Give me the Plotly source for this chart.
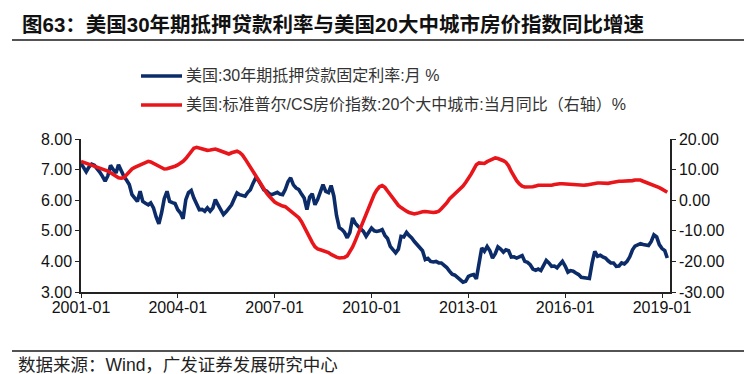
import pandas as pd
import plotly.graph_objects as go

# ---------------- data (monthly, 2001-01 .. 2019-03) ----------------
start_month = "2001-01-01"

mortgage_rate = [
    # 2001
    7.20, 7.08, 6.93, 7.08, 7.18, 7.14, 7.05, 6.92, 6.78, 6.62, 6.80, 7.14,
    # 2002
    7.00, 6.89, 7.16, 6.95, 6.78, 6.65, 6.51, 6.18, 6.05, 5.96, 6.29, 5.96,
    # 2003
    5.90, 5.85, 5.91, 5.75, 5.45, 5.23, 5.58, 6.05, 6.29, 5.96, 5.92, 5.89,
    # 2004
    5.69, 5.58, 5.39, 6.02, 6.25, 6.32, 6.07, 5.85, 5.69, 5.70, 5.64, 5.75,
    # 2005
    5.64, 5.75, 6.02, 5.85, 5.71, 5.53, 5.62, 5.75, 5.85, 6.05, 6.24, 6.18,
    # 2006
    6.15, 6.13, 6.25, 6.34, 6.55, 6.73, 6.65, 6.48, 6.34, 6.30, 6.21, 6.18,
    # 2007
    6.22, 6.26, 6.20, 6.18, 6.35, 6.60, 6.73, 6.50, 6.40, 6.35, 6.20, 6.07,
    # 2008
    5.69, 6.10, 6.21, 5.85, 6.02, 6.30, 6.51, 6.29, 6.25, 6.48, 6.13, 5.50,
    # 2009
    5.10, 5.04, 4.95, 4.77, 4.95, 5.42, 5.25, 5.15, 5.05, 4.98, 4.82, 4.95,
    # 2010
    5.09, 5.00, 4.98, 5.00, 5.04, 4.85, 4.75, 4.49, 4.38, 4.28, 4.40, 4.82,
    # 2011
    4.80, 4.95, 4.85, 4.77, 4.65, 4.55, 4.44, 4.35, 4.06, 4.10, 4.00, 3.98,
    # 2012
    4.00, 3.95, 3.95, 3.89, 3.80, 3.68, 3.58, 3.55, 3.46, 3.38, 3.32, 3.35,
    # 2013
    3.51, 3.55, 3.57, 3.43, 3.90, 4.44, 4.33, 4.49, 4.35, 4.11, 4.25, 4.47,
    # 2014
    4.40, 4.30, 4.38, 4.35, 4.14, 4.15, 4.11, 4.15, 4.19, 4.00, 3.97, 3.89,
    # 2015
    3.75, 3.71, 3.75, 3.70, 3.85, 4.03, 3.95, 3.84, 3.85, 3.79, 3.90, 4.00,
    # 2016
    3.85, 3.65, 3.70, 3.68, 3.62, 3.57, 3.48, 3.46, 3.45, 3.44, 3.95, 4.33,
    # 2017
    4.17, 4.20, 4.15, 4.11, 4.02, 3.95, 3.95, 3.84, 3.85, 3.95, 3.92, 4.00,
    # 2018
    4.15, 4.38, 4.50, 4.55, 4.58, 4.55, 4.54, 4.52, 4.65, 4.87, 4.80, 4.55,
    # 2019
    4.42, 4.35, 4.11,
]

cs20_yoy = [
    # 2001
    12.7, 12.4, 12.1, 11.8, 11.4, 11.1, 10.8, 10.5, 10.2, 9.8, 9.5, 9.0,
    # 2002
    8.4, 7.8, 7.3, 7.2, 7.4, 8.3, 9.3, 10.2, 10.7, 11.1, 11.4, 11.9,
    # 2003
    12.4, 12.7, 12.5, 12.0, 11.4, 11.0, 10.6, 10.2, 10.3, 10.5, 10.8, 11.1,
    # 2004
    11.5, 12.0, 12.7, 13.6, 14.6, 15.8, 17.0, 17.3, 17.0, 16.7, 16.5, 16.3,
    # 2005
    16.4, 16.6, 16.7, 16.4, 16.1, 15.8, 15.4, 15.1, 15.5, 15.9, 16.0, 15.6,
    # 2006
    14.8, 13.5, 12.2, 10.8, 9.5, 7.8, 6.2, 4.8, 3.4, 2.4, 1.3, 0.2,
    # 2007
    -0.6, -1.1, -1.6, -1.9, -2.1, -2.8, -3.6, -4.4, -5.1, -5.7, -7.0, -8.8,
    # 2008
    -10.4, -12.1, -13.8, -15.2, -15.9, -16.2, -16.5, -16.7, -17.1, -17.7, -18.3, -18.6,
    # 2009
    -18.9, -18.9, -18.7, -18.2, -17.0, -15.3, -13.3, -11.0, -8.8, -6.5, -4.2, -2.0,
    # 2010
    0.0, 1.9, 3.3, 4.4, 4.8, 4.2, 3.0, 1.7, 0.4, -0.8, -1.7, -2.4,
    # 2011
    -3.1, -3.6, -4.0, -4.3, -4.5, -4.3, -4.0, -3.8, -3.7, -3.8, -4.0, -4.0,
    # 2012
    -3.9, -3.6, -2.8, -2.0, -0.9, 0.4, 1.2, 2.0, 2.6, 3.4, 4.6, 5.8,
    # 2013
    7.0, 8.5, 10.0, 11.6, 12.2, 12.1, 12.0, 12.6, 13.1, 13.5, 13.8, 13.6,
    # 2014
    13.3, 12.9, 12.4, 11.2, 9.4, 7.8, 6.4, 5.3, 4.6, 4.3, 4.3, 4.4,
    # 2015
    4.4, 4.6, 4.9, 4.9, 4.9, 4.8, 4.8, 4.9, 5.1, 5.3, 5.4, 5.4,
    # 2016
    5.3, 5.2, 5.2, 5.1, 5.1, 5.0, 5.0, 4.9, 5.0, 5.2, 5.4, 5.6,
    # 2017
    5.6, 5.6, 5.5, 5.4, 5.5, 5.7, 5.9, 6.1, 6.2, 6.2, 6.2, 6.2,
    # 2018
    6.3, 6.4, 6.6, 6.7, 6.6, 6.2, 5.9, 5.6, 5.3, 5.0, 4.6, 4.1,
    # 2019
    3.6, 3.1, 2.6,
]

x_tick_vals = ["2001-01-01", "2004-01-01", "2007-01-01", "2010-01-01",
               "2013-01-01", "2016-01-01", "2019-01-01"]
x_tick_text = ["2001-01", "2004-01", "2007-01", "2010-01",
               "2013-01", "2016-01", "2019-01"]
left_tick_vals = [3, 4, 5, 6, 7, 8]
left_tick_text = ["3.00", "4.00", "5.00", "6.00", "7.00", "8.00"]
right_tick_vals = [-30, -20, -10, 0, 10, 20]
right_tick_text = ["-30.00", "-20.00", "-10.00", "0.00", "10.00", "20.00"]

series_names = ["美国:30年期抵押贷款固定利率:月 %",
                "美国:标准普尔/CS房价指数:20个大中城市:当月同比（右轴）%"]
title_text = "图63：美国30年期抵押贷款利率与美国20大中城市房价指数同比增速"
source_text = "数据来源：Wind，广发证券发展研究中心"

dates = pd.date_range(start_month, periods=len(mortgage_rate), freq="MS")

BLUE = "#0c2c69"
RED = "#e8161b"
LATIN = "Liberation Sans, Arial, sans-serif"
CJK = "Liberation Sans, Noto Sans CJK SC, sans-serif"

fig = go.Figure()
fig.add_trace(go.Scatter(x=dates, y=mortgage_rate, mode="lines", name=series_names[0],
                         line=dict(color=BLUE, width=3.6), yaxis="y", showlegend=False))
fig.add_trace(go.Scatter(x=dates, y=cs20_yoy, mode="lines", name=series_names[1],
                         line=dict(color=RED, width=3.6), yaxis="y2", showlegend=False))

# plot area in pixels: x 73..662, y 131..284
W, H = 752, 374
L, R, T, B = 73, 662, 131, 284
pw, ph = R - L, B - T

def px(xp):
    return (xp - L) / pw

def py(yp):
    return (B - yp) / ph

shapes = []
annotations = []
# rules under title and above source
for yy in (32, 343):
    shapes.append(dict(type="line", xref="paper", yref="paper",
                       x0=px(4), x1=px(746), y0=py(yy), y1=py(yy),
                       line=dict(color="#1a1a1a", width=1.3)))
# custom legend
for i, (yy, col) in enumerate([(68, BLUE), (97, RED)]):
    shapes.append(dict(type="line", xref="paper", yref="paper",
                       x0=px(133), x1=px(174), y0=py(yy), y1=py(yy),
                       line=dict(color=col, width=3.6)))
    annotations.append(dict(xref="paper", yref="paper", x=px(176), y=py(yy),
                            xanchor="left", yanchor="middle", showarrow=False,
                            text=series_names[i],
                            font=dict(family=CJK, size=16, color="#333333")))
annotations.append(dict(xref="paper", yref="paper", x=px(8), y=py(357),
                        xanchor="left", yanchor="middle", showarrow=False,
                        text=source_text,
                        font=dict(family=CJK, size=17.5, color="#222222")))

fig.update_layout(
    width=W, height=H,
    margin=dict(l=L, r=W - R, t=T, b=H - B, pad=0),
    paper_bgcolor="white", plot_bgcolor="white",
    title=dict(text="<b>" + title_text + "</b>", xref="container", yref="container",
               x=14 / W, y=1 - 17 / H, xanchor="left", yanchor="middle",
               font=dict(family="Liberation Sans, Noto Sans CJK SC, sans-serif",
                         size=20.5, color="#111111")),
    xaxis=dict(type="date", range=["2001-01-01", "2019-04-01"],
               tickvals=x_tick_vals, ticktext=x_tick_text,
               showgrid=False, zeroline=False, showline=True,
               linecolor="#222222", linewidth=1.5,
               ticks="outside", ticklen=4, tickwidth=1.3, tickcolor="#222222",
               ticklabelstandoff=-4,
               tickfont=dict(family=LATIN, size=16, color="#111111")),
    yaxis=dict(range=[3, 8], tickvals=left_tick_vals, ticktext=left_tick_text,
               showgrid=False, zeroline=False, showline=True,
               linecolor="#222222", linewidth=1.5,
               ticks="outside", ticklen=4, tickwidth=1.3, tickcolor="#222222",
               tickfont=dict(family=LATIN, size=16, color="#111111")),
    yaxis2=dict(range=[-30, 20], tickvals=right_tick_vals, ticktext=right_tick_text,
                overlaying="y", side="right",
                showgrid=False, zeroline=False, showline=True,
                linecolor="#222222", linewidth=1.5,
                ticks="outside", ticklen=4, tickwidth=1.3, tickcolor="#222222",
                tickfont=dict(family=LATIN, size=16, color="#111111")),
    shapes=shapes, annotations=annotations,
)

fig.write_html("out.html")
